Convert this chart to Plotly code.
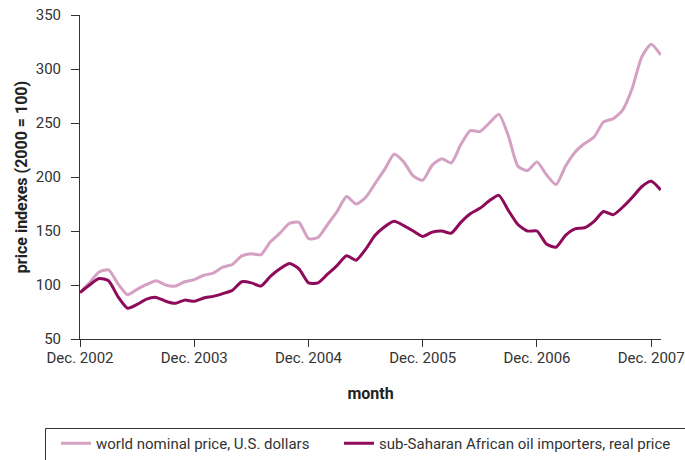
import plotly.graph_objects as go

# month index 0 = Dec. 2002 ... 61 = Jan. 2008
months = list(range(62))
tick_vals = [0, 12, 24, 36, 48, 60]
tick_text = ["Dec. 2002", "Dec. 2003", "Dec. 2004", "Dec. 2005", "Dec. 2006", "Dec. 2007"]

world_nominal = [
    93, 102, 112, 114, 101, 91, 96, 100.5, 104, 100, 99, 103,
    105, 109, 111, 116.5, 119, 127, 129, 128, 140, 148, 157, 158,
    143, 144, 156, 168, 182, 175, 181, 194, 207, 221, 214, 201,
    197, 211, 217, 213, 230, 243, 242, 250, 258, 238, 210, 206,
    214, 202, 193, 210, 223, 231, 237, 251, 254, 262, 282, 311,
    323, 313,
]
ssa_real = [
    93, 100, 106, 104, 89, 78.5, 82, 87, 88.5, 85, 83, 86,
    85, 88, 89.5, 92, 95, 103, 102, 99, 108, 115, 120, 115,
    102, 102, 110, 118, 127, 123, 133, 146, 154, 159, 155, 150,
    145, 149, 150, 148, 158, 166, 171, 178, 183, 169, 156, 150,
    150, 138, 135, 146, 152, 153, 159, 168, 165, 172, 181, 191,
    196, 188,
]

FONT = "Roboto, Liberation Sans, sans-serif"
TXT = "#333333"

W, H = 685, 460
L, R, T, B = 80, 24, 15, 121
PW, PH = W - L - R, H - T - B


def px_x(p):
    return (p - L) / PW


def px_y(p):
    return (H - B - p) / PH


fig = go.Figure()
fig.add_trace(go.Scatter(
    x=months, y=world_nominal, mode="lines",
    name="world nominal price, U.S. dollars", legend="legend",
    line=dict(color="#D4A1C3", width=3, shape="spline", smoothing=0.6),
))
fig.add_trace(go.Scatter(
    x=months, y=ssa_real, mode="lines",
    name="sub-Saharan African oil importers, real price", legend="legend2",
    line=dict(color="#8E0A5A", width=3, shape="spline", smoothing=0.6),
))

# legend frame (extends past the page edge like the reference)
fig.add_shape(type="rect", xref="paper", yref="paper",
              x0=px_x(45.5), x1=px_x(720), y0=px_y(428.5), y1=px_y(500),
              line=dict(color="#333333", width=1), fillcolor="rgba(0,0,0,0)")

legend_common = dict(
    orientation="h", xanchor="left", y=px_y(427), yanchor="top",
    borderwidth=0, font=dict(size=15, color=TXT), bgcolor="rgba(0,0,0,0)",
    itemwidth=30,
)

fig.update_layout(
    width=W, height=H,
    margin=dict(l=L, r=R, t=T, b=B, autoexpand=False),
    paper_bgcolor="white", plot_bgcolor="white",
    font=dict(family=FONT, size=15, color=TXT),
    showlegend=True,
    legend=dict(x=px_x(56), **legend_common),
    legend2=dict(x=px_x(339), **legend_common),
    xaxis=dict(
        range=[0, 61.03], tickmode="array", tickvals=tick_vals, ticktext=tick_text,
        showline=True, linecolor="#333333", linewidth=1, automargin=False,
        ticks="outside", ticklen=7, tickcolor="#333333", showgrid=False, zeroline=False,
        ticklabeloverflow="allow", ticklabelstandoff=-2,
        title=dict(text="<b>month</b>", font=dict(size=16, color="#222222"), standoff=21),
        tickfont=dict(size=15, color=TXT),
    ),
    yaxis=dict(
        range=[50, 350], tickmode="array", tickvals=[50, 100, 150, 200, 250, 300, 350],
        showline=True, linecolor="#333333", linewidth=1, automargin=False,
        ticks="outside", ticklen=8, tickcolor="#333333", showgrid=False, zeroline=False,
        ticklabelstandoff=7,
        title=dict(text="<b>price indexes (2000 = 100)</b>", font=dict(size=16, color="#222222"), standoff=4),
        tickfont=dict(size=15, color=TXT),
    ),
)

fig.write_html("out.html", config={"displayModeBar": False},
               post_script="document.body.style.margin='0px';")
